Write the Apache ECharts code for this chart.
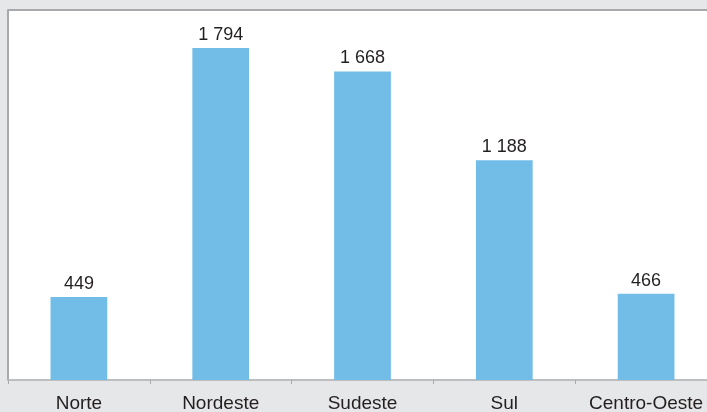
<!DOCTYPE html>
<html>
<head>
<meta charset="utf-8">
<script src="https://cdn.jsdelivr.net/npm/echarts@6/dist/echarts.min.js"></script>
<style>
  html, body { margin: 0; padding: 0; background: #e6e7e8; overflow: hidden; }
  #chart { width: 707px; height: 412px; }
</style>
</head>
<body>
<div id="chart"></div>
<script>
// regiões e valores
var regioes = ['Norte', 'Nordeste', 'Sudeste', 'Sul', 'Centro-Oeste'];
var valores = [449, 1794, 1668, 1188, 466];

function milhar(v) {
  return String(v).replace(/\B(?=(\d{3})+(?!\d))/g, ' ');
}

var chart = echarts.init(document.getElementById('chart'));
var option = {
  backgroundColor: '#e6e7e8',
  animation: false,
  grid: {
    left: 8,
    top: 10,
    width: 709,
    height: 370,
    show: true,
    backgroundColor: '#ffffff',
    borderWidth: 0,
    outerBoundsMode: 'none'
  },
  xAxis: {
    type: 'category',
    data: regioes,
    axisLine: { lineStyle: { color: '#bcbec0', width: 2 } },
    axisTick: { show: true, interval: 0, length: 4, lineStyle: { color: '#a7a9ac' } },
    axisLabel: {
      interval: 0,
      color: '#231f20',
      fontFamily: 'Liberation Sans',
      fontSize: 19,
      margin: 14
    }
  },
  yAxis: {
    type: 'value',
    min: 0,
    max: 2000,
    interval: 2000,
    axisLabel: { show: false },
    axisTick: { show: false },
    // linha esquerda e linha do topo da área do gráfico
    axisLine: { show: true, lineStyle: { color: '#a7a9ac', width: 2 } },
    splitLine: { show: true, lineStyle: { color: '#a7a9ac', width: 2 } }
  },
  series: [{
    type: 'bar',
    data: valores,
    barWidth: '40%',
    itemStyle: { color: '#72bce8' },
    label: {
      show: true,
      position: 'top',
      distance: 4,
      color: '#231f20',
      fontFamily: 'Liberation Sans',
      fontSize: 18,
      formatter: function (p) { return milhar(p.value); }
    }
  }]
};
chart.setOption(option);
</script>
</body>
</html>
